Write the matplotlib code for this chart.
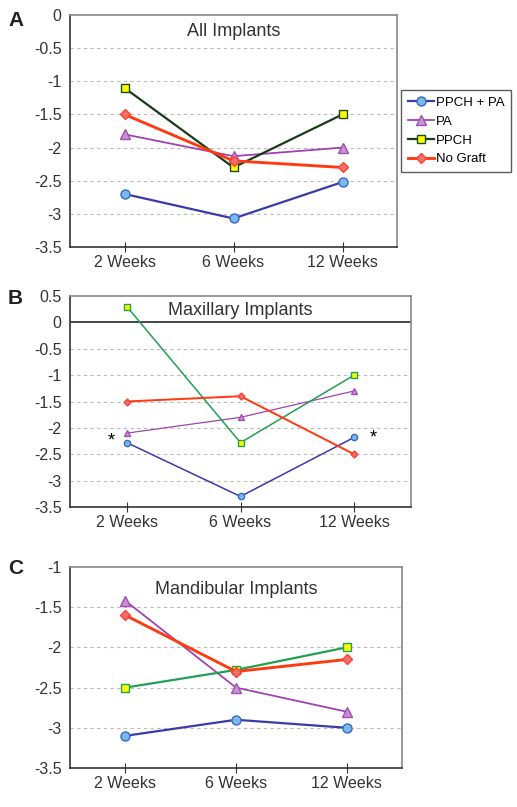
import matplotlib.pyplot as plt

plt.rcParams['font.family'] = ['Liberation Sans', 'DejaVu Sans']

weeks = ['2 Weeks', '6 Weeks', '12 Weeks']
series = ['PPCH + PA', 'PA', 'PPCH', 'No Graft']

# panel A - all implants
all_ppch_pa = [-2.7, -3.07, -2.52]
all_pa = [-1.8, -2.13, -2.0]
all_ppch = [-1.1, -2.3, -1.5]
all_nograft = [-1.5, -2.2, -2.3]

# panel B - maxillary
max_ppch_pa = [-2.28, -3.3, -2.18]
max_pa = [-2.1, -1.8, -1.3]
max_ppch = [0.3, -2.28, -1.0]
max_nograft = [-1.5, -1.4, -2.5]

# panel C - mandibular
man_ppch_pa = [-3.1, -2.9, -3.0]
man_pa = [-1.42, -2.5, -2.8]
man_ppch = [-2.5, -2.28, -2.0]
man_nograft = [-1.6, -2.3, -2.15]

W, H = 517, 807
fig = plt.figure(figsize=(W / 100, H / 100), dpi=100)


def px_axes(left, top, right, bottom):
    return fig.add_axes([left / W, 1 - bottom / H, (right - left) / W, (bottom - top) / H])


def style(ax, ylim, yticks, title, ty, letter):
    ax.set_xlim(-0.5, 2.5)
    ax.set_ylim(*ylim)
    ax.set_yticks(yticks)
    ax.set_yticklabels([('%g' % t) for t in yticks], fontsize=11.5, color='#333333')
    ax.set_xticks(range(3))
    ax.set_xticklabels(weeks, fontsize=11.5, color='#333333')
    ax.tick_params(axis='y', length=0, pad=6)
    ax.tick_params(axis='x', direction='inout', length=7, pad=2, color='#333333')
    for t in yticks[1:-1]:
        if t != 0:
            ax.axhline(t, color='#bbbbbb', lw=0.8, ls=(0, (3, 3)), zorder=0)
    for s in ['top', 'right']:
        ax.spines[s].set_color('#888888')
        ax.spines[s].set_linewidth(1.2)
    for s in ['left', 'bottom']:
        ax.spines[s].set_color('#333333')
        ax.spines[s].set_linewidth(1.2)
    ax.text(0.5, ty, title, transform=ax.transAxes, ha='center', va='center',
            fontsize=13, color='#333333')
    fig.text(8 / W, 1 - letter / H, ax.get_label(), fontsize=15, fontweight='bold',
             va='center', color='#222222')


def draw(ax, d, thick):
    lw = 1.6 if thick else 1.1
    ms = 6.5 if thick else 4.5
    ax.plot(range(3), d[0], color='#3a3aaa', lw=lw, marker='o', ms=ms,
            mfc='#7ab8ee', mec='#3a6ac0', label=series[0])
    ax.plot(range(3), d[1], color='#a040b0', lw=lw * 0.8, marker='^', ms=ms + 0.5,
            mfc='#c890d8', mec='#a050b0', label=series[1])
    ax.plot(range(3), d[2], color=d[4], lw=lw, marker='s', ms=ms - 0.5,
            mfc='#ffff00', mec=d[5], label=series[2])
    ax.plot(range(3), d[3], color='#ff3a10', lw=lw * 1.3, marker='D', ms=ms - 1,
            mfc='#f07070', mec='#ff4030', label=series[3])


axA = px_axes(70, 15, 397, 247)
axA.set_label('A')
draw(axA, [all_ppch_pa, all_pa, all_ppch, all_nograft, '#1a3a1a', '#1a4a1a'], True)
style(axA, (-3.5, 0), [-3.5, -3, -2.5, -2, -1.5, -1, -0.5, 0], 'All Implants', 0.93, 20)
leg = axA.legend(loc='upper left', bbox_to_anchor=(401 / W, 1 - 90 / H), bbox_transform=fig.transFigure,
                 fontsize=9.5, frameon=True, fancybox=False, edgecolor='#333333',
                 handlelength=2.0, borderpad=0.5, labelspacing=0.5, handletextpad=0.15,
                 borderaxespad=0)
leg.get_frame().set_linewidth(1.0)

axB = px_axes(70, 296, 411, 507)
axB.set_label('B')
draw(axB, [max_ppch_pa, max_pa, max_ppch, max_nograft, '#20a050', '#20a050'], False)
style(axB, (-3.5, 0.5), [-3.5, -3, -2.5, -2, -1.5, -1, -0.5, 0, 0.5], 'Maxillary Implants', 0.93, 298)
axB.axhline(0, color='#444444', lw=1.4, zorder=1)
axB.text(-0.14, -2.25, '*', fontsize=13, ha='center', va='center')
axB.text(2.17, -2.2, '*', fontsize=13, ha='center', va='center')

axC = px_axes(70, 567, 402, 768)
axC.set_label('C')
draw(axC, [man_ppch_pa, man_pa, man_ppch, man_nograft, '#20a050', '#20a050'], True)
style(axC, (-3.5, -1), [-3.5, -3, -2.5, -2, -1.5, -1], 'Mandibular Implants', 0.89, 568)

fig.savefig('out.png', dpi=100)
